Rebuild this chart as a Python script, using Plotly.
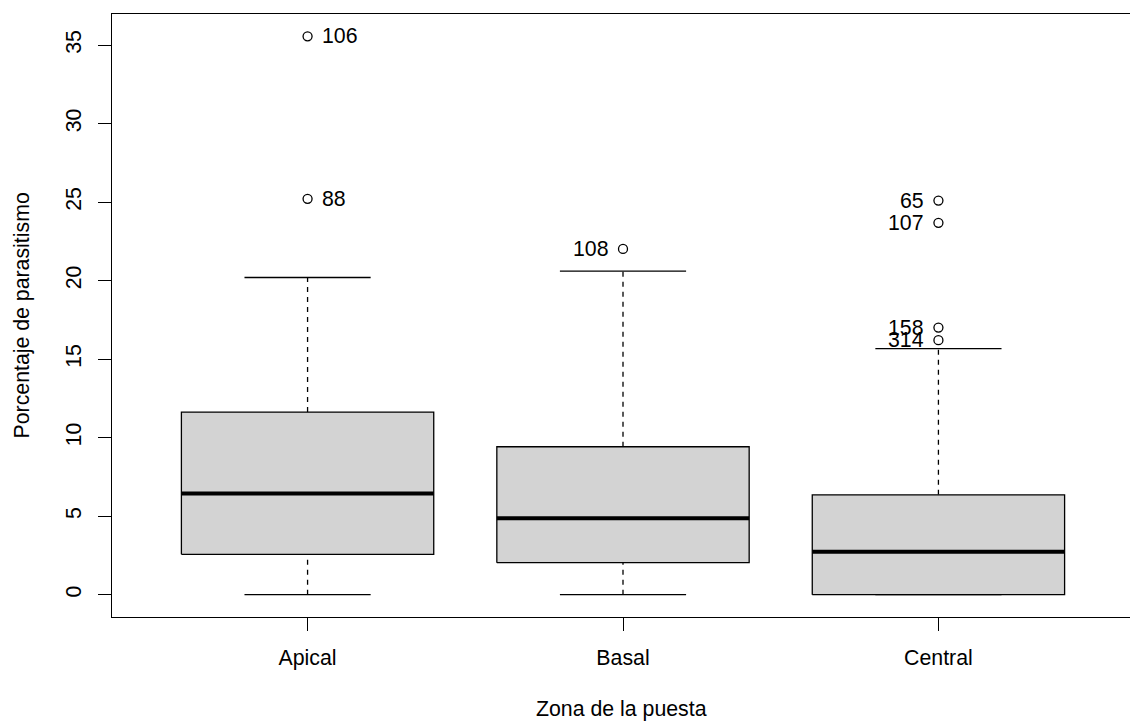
import plotly.graph_objects as go

# Five-number summaries per laying zone (percentage of parasitism)
zones = ["Apical", "Basal", "Central"]
whisker_low = [0.0, 0.0, 0.0]
q1 = [2.57, 2.04, 0.0]
median = [6.45, 4.87, 2.74]
q3 = [11.63, 9.42, 6.36]
whisker_high = [20.20, 20.61, 15.67]

# Outlying observations and their row ids
outlier_zone = ["Apical", "Apical", "Basal", "Central", "Central", "Central", "Central"]
outlier_value = [35.56, 25.21, 22.02, 25.10, 23.68, 17.01, 16.21]
outlier_id = ["106", "88", "108", "65", "107", "158", "314"]

y_ticks = [0, 5, 10, 15, 20, 25, 30, 35]

# ---- styling ----
FONT = "Liberation Sans, Arial, sans-serif"
FS = 21.3
BOX_HALF = 0.4
CAP_HALF = 0.2
LW = 1.3
label_side = {"Apical": "right", "Basal": "left", "Central": "left"}

W, H = 1130, 722
M_L, M_T, M_B = 112, 14, 105

pos = {z: i + 1 for i, z in enumerate(zones)}
xs = [pos[z] for z in zones]

fig = go.Figure()

# whiskers (dashed), drawn first so the boxes cover their ends
wx, wy = [], []
for x, lo, a, b, hi in zip(xs, whisker_low, q1, q3, whisker_high):
    wx += [x, x, None, x, x, None]
    wy += [lo, a, None, b, hi, None]
fig.add_trace(go.Scatter(x=wx, y=wy, mode="lines",
                         line=dict(color="black", width=LW, dash="5px,5px"),
                         hoverinfo="skip"))

# staples at whisker ends
cx, cy = [], []
for x, lo, hi in zip(xs, whisker_low, whisker_high):
    cx += [x - CAP_HALF, x + CAP_HALF, None, x - CAP_HALF, x + CAP_HALF, None]
    cy += [lo, lo, None, hi, hi, None]
fig.add_trace(go.Scatter(x=cx, y=cy, mode="lines",
                         line=dict(color="black", width=LW), hoverinfo="skip"))

# boxes
bx, by = [], []
for x, a, b in zip(xs, q1, q3):
    bx += [x - BOX_HALF, x + BOX_HALF, x + BOX_HALF, x - BOX_HALF, x - BOX_HALF, None]
    by += [a, a, b, b, a, None]
fig.add_trace(go.Scatter(x=bx, y=by, mode="lines", fill="toself",
                         fillcolor="#d3d3d3",
                         line=dict(color="black", width=LW), hoverinfo="skip"))

# medians
mx, my = [], []
for x, m in zip(xs, median):
    mx += [x - BOX_HALF, x + BOX_HALF, None]
    my += [m, m, None]
fig.add_trace(go.Scatter(x=mx, y=my, mode="lines",
                         line=dict(color="black", width=4), hoverinfo="skip"))

# outliers
ox = [pos[z] for z in outlier_zone]
fig.add_trace(go.Scatter(x=ox, y=outlier_value, mode="markers",
                         marker=dict(symbol="circle-open", size=9, color="black",
                                     line=dict(width=LW, color="black")),
                         hoverinfo="skip"))

for z, v, lab in zip(outlier_zone, outlier_value, outlier_id):
    side = label_side[z]
    fig.add_annotation(x=pos[z], y=v, text=lab, showarrow=False,
                       xanchor="left" if side == "right" else "right",
                       yanchor="middle",
                       xshift=12 if side == "right" else -12,
                       font=dict(family=FONT, size=FS, color="black"))

# axis titles
fig.add_annotation(xref="paper", yref="paper", x=0.5, y=0, yanchor="top",
                   yshift=-78, text="Zona de la puesta", showarrow=False,
                   font=dict(family=FONT, size=FS, color="black"))
fig.add_annotation(xref="paper", yref="paper", x=0, y=0.5, xanchor="center",
                   xshift=-91, textangle=-90, text="Porcentaje de parasitismo",
                   showarrow=False, font=dict(family=FONT, size=FS, color="black"))

# axis ranges with 4% padding on each side
all_y = whisker_low + whisker_high + outlier_value
y_lo, y_hi = min(all_y), max(all_y)
pad = 0.04 * (y_hi - y_lo)
n = len(zones)
x_lo = 0.5 - 0.04 * n
x_hi_full = n + 0.5 + 0.04 * n
# the frame's right edge sits just past the canvas
x_hi = x_lo + (x_hi_full - x_lo) * (W - M_L) / 1022.0

fig.update_layout(
    width=W, height=H,
    margin=dict(l=M_L, r=0, t=M_T, b=M_B),
    paper_bgcolor="white", plot_bgcolor="white",
    showlegend=False,
    font=dict(family=FONT, size=FS, color="black"),
    xaxis=dict(range=[x_lo, x_hi], tickmode="array", tickvals=xs, ticktext=zones,
               showgrid=False, zeroline=False, showline=True, mirror=True,
               linecolor="black", linewidth=LW, ticks="outside", ticklen=13,
               tickwidth=LW, tickcolor="black", ticklabelstandoff=8,
               tickfont=dict(family=FONT, size=FS, color="black")),
    yaxis=dict(range=[y_lo - pad, y_hi + pad], tickmode="array", tickvals=y_ticks,
               showgrid=False, zeroline=False, showline=True, mirror=False,
               linecolor="black", linewidth=LW, ticks="outside", ticklen=13,
               tickwidth=LW, tickcolor="black", tickangle=-90, ticklabelstandoff=8,
               tickfont=dict(family=FONT, size=FS, color="black")),
)

fig.write_html("out.html")
